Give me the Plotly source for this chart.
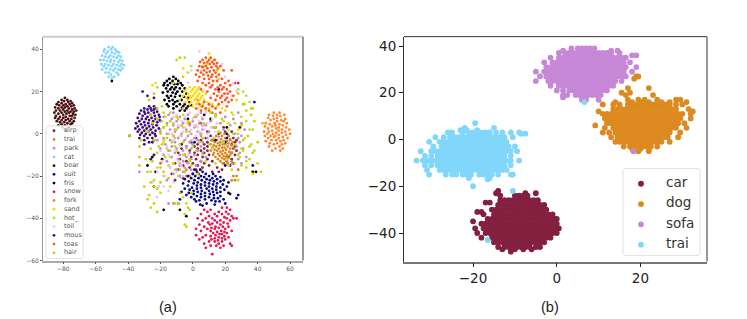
import plotly.graph_objects as go

# panel (a): points, {y: [x, ...]}
airp_rows = {3: [14, 19], 1: [9, 20, 24], 0: [5, 16], -1: [11, 22], -2: [2, 8, 25], -3: [5, 12, 27], -4: [-1, 9, 26],
             -5: [3, 7, 24], -6: [-4, 1, 9, 26], -7: [-7, 3, 7, 25], -8: [-2, 5, 9, 27], -9: [-9, 1, 7, 24],
             -10: [-5, 3, 10, 26], -11: [-1, 6, 22], -12: [-8, 2, 9, 24], -13: [-4, 5, 12, 21],
             -14: [-11, 0, 7, 19, 25], -15: [-6, 3, 10, 23], -16: [-2, 6, 15], -17: [-9, 2, 18], -18: [-5, 12, 16],
             -19: [-13, 0], -20: [-8, -3], -21: [-6], -22: [-11]}
trai_rows = {0.5: [17], 0: [19.5], -1: [14.5, 18, 22], -1.5: [16], -2: [13, 20], -2.5: [17.5, 23], -3: [11.5, 15],
             -3.5: [19, 21], -4: [13.5, 17, 24.5], -4.5: [15.5, 22], -5: [11, 18.5, 20], -5.5: [13, 16.5, 24],
             -6: [14.5, 21.5], -6.5: [12, 18, 19.5], -7: [16, 23, 25.5], -7.5: [13.5, 20.5], -8: [11, 15, 18.5],
             -8.5: [17, 22.5], -9: [13, 20, 24], -9.5: [15.5, 18], -10: [12.5, 21, 23], -10.5: [16.5, 19],
             -11: [14, 20.5], -11.5: [18, 22], -12: [15.5, 19.5], -13: [17, 21, 24], -14: [18.5, 21.5], -15: [2],
             -17: [5, -4], -20: [-4, -2, 25, 27], -22: [24, 26]}
park_rows = {16: [3], 14: [10, -2], 12: [-7, 8], 10: [-12, 5, 28], 9: [-15, -3, 14], 8: [-18, -8, 2, 20],
             7: [-13, -5, 6, 25], 6: [-20, -10, 0, 11], 5: [-16, -6, 4, 17, 30], 4: [-22, -12, -2, 8, 23],
             3: [-18, -9, 1, 13], 2: [-14, -4, 6, 19, 32], 1: [-20, -11, 3, 10], 0: [-16, -7, -1, 26],
             -1: [-12, -3, 5, 30], -2: [-18, -9, 1, 9, 28], -3: [-22, -14, -5, 3], -4: [-11, -2, 6, 29],
             -5: [-17, -8, 0], -6: [-13, -4, 5, 27], -7: [-20, -10, -1, 31], -8: [-15, -6, 3], -9: [-11, -2, 6, 29],
             -10: [-18, -8, 1], -11: [-13, -4, 8, 33], -12: [-9, -1, 28], -13: [-16, -6, 5], -14: [-12, -3, 24, 30],
             -15: [-8, 2], -16: [-14, -5], -17: [-10, -1], -18: [-33, -6], -19: [-12], -20: [-8], -22: [-16],
             -33: [-15, -12]}
cat_rows = {41: [-52, -49.5], 40: [-54.5, -50.5, -48], 39: [-55, -52.5, -47], 38.5: [-50, -45.5], 38: [-53.5, -48],
            37: [-56, -51, -46], 36.5: [-54, -49, -44.5], 36: [-52, -47], 35: [-57, -55, -50.5, -45],
            34.5: [-53, -48.5, -43.5], 34: [-51, -46], 33: [-56.5, -54, -49, -44], 32.5: [-52, -47, -42.5],
            32: [-55, -50, -45], 31: [-53.5, -48, -43.5], 30.5: [-56, -51, -46], 30: [-49, -44.5],
            29: [-54, -52, -47], 28: [-50.5, -46], 27: [-52, -48.5], 26.5: [-50]}
bear_rows = {17: [-79], 16: [-81, -77.5], 15.5: [-79.5, -75.5], 15: [-83, -77], 14.5: [-81, -74.5], 14: [-84, -78.5, -76],
             13.5: [-82.5, -80, -73.5], 13: [-77.5, -75], 12.5: [-85, -81, -79], 12: [-83, -76.5, -73], 11.5: [-80, -74.5],
             11: [-84.5, -82, -77.5, -72], 10.5: [-79, -75.5, -73.5], 10: [-85.5, -81, -76.5], 9.5: [-83, -78, -74],
             9: [-80, -72.5], 8.5: [-84.5, -76, -74.5], 8: [-82, -78.5], 7.5: [-85, -80, -73], 7: [-83, -77, -75],
             6.5: [-81, -78.5], 6: [-84, -76, -73.5], 5.5: [-82, -79.5], 5: [-77.5, -74.5], 4.5: [-81, -75.5],
             4: [-83, -79], 3: [-80.5, -77], 2: [-79]}
suit_rows = {21: [16], 15: [38], 4: [6], 0: [21], -2: [21], -3: [14], -4: [20, 1], -15: [37, 20], -17: [1, 4.5],
             -18: [2.5, 6], -19: [0, 3.5, 8, 12.5], -20: [-3, 1.5, 5, 10, 14], -20.5: [7, 17], -21: [-1, 3.5, 12],
             -21.5: [-5, 8.5, 15], -22: [1, 5.5, 10.5, 19], -22.5: [-2.5, 13, 17], -23: [3, 7.5, 22],
             -23.5: [-6, 0.5, 10, 15], -24: [5, 12.5, 18.5], -24.5: [-3, 2.5, 7.5], -25: [10, 14.5, 21],
             -25.5: [-0.5, 5, 17], -26: [-5, 2.5, 8.5, 12], -26.5: [-2, 14.5, 19.5], -27: [0.5, 5.5, 10],
             -27.5: [-7, 3, 12.5, 17], -28: [-2.5, 7.5, 15], -28.5: [0.5, 5, 10.5, 23], -29: [-4, 13, 28],
             -29.5: [2.5, 7.5, 17], -30: [-1, 5, 10], -30.5: [13, 15.5, 27], -31: [-8, 1, 7.5, 19], -31.5: [4, 11.5],
             -32: [2, 14, 16.5], -33: [-9, 8.5, 20], -33.5: [4.5, 13.5], -34: [6]}
fris_rows = {27: [-12], 26: [-14.5, -10.5], 25: [-50, -16, -12.5, -9], 24: [-17.5, -14, -7.5], 23.5: [-11.5, -9.5],
             23: [-18, -15.5, -6.5], 22: [-13, -10.5], 21.5: [-16.5, -8, -5], 21: [-14, -11.5], 20: [-15.5, -9.5, -6.5],
             19.5: [-18.5, -12.5], 19: [-10.5, -4], 18: [-16, -13.5, -8], 17.5: [-11, -5.5], 17: [-15, -3], 16: [-17.5, -12.5, -7],
             15.5: [-9.5, -14.5], 15: [-11, -2], 14: [-16, -12, -8, -5], 13.5: [-1], 13: [-15, -10, -6, -3], 12: [-12, -7, -4],
             11: [-8, -5], 9: [7, 14], 7: [-3, 11], 3: [21, 29], -1: [-39], -5: [-7], -11: [-25], -12: [-19],
             -15: [-28], -18: [-23, 37, 39], -25: [-24], -28: [22], -36: [-18, -8], -39: [-4]}
snow_rows = {24: [26, 28], -35: [18, 21], -36: [7, 11, 23], -37: [9, 16, 20.5], -38: [5, 13.5, 18, 22],
             -39: [10, 15, 24], -39.5: [19.5], -40: [3, 8, 12, 21, 25, 27], -41: [6, 13.5, 17, 23], -42: [9.5, 15, 19],
             -42.5: [21.5, 12], -43: [4, 10.5, 17], -44: [7, 14, 18.5, 22], -44.5: [11.5, 16], -45: [2, 9, 13.5, 20],
             -46: [5, 11, 17.5, 24], -46.5: [15, 19.5], -47: [12.5, 21], -47.5: [16.5, 18], -48: [2, 8, 14],
             -48.5: [11, 19.5], -49: [6, 16, 22], -49.5: [13.5, 18], -50: [4, 11.5, 20], -50.5: [15.5], -51: [10, 13.5, 18],
             -52: [7, 16, 23], -53: [11, 14.5, 19, 24], -54: [8, 17], -57: [12]}
fork_rows = {10: [50, 53.5], 9: [47, 52, 56.5], 8.5: [49.5, 54], 7.5: [46.5, 52], 7: [50, 57], 6.5: [54.5, 48],
             6: [52, 56], 5: [45, 50.5, 58], 4.5: [47.5, 53.5], 4: [55.5, 51], 3.5: [44.5, 49], 3: [53, 57.5], 2.5: [46.5, 51.5],
             2: [55, 59.5], 1.5: [49, 53], 1: [44, 47, 57], 0.5: [51.5, 55], 0: [46, 49.5, 60], -0.5: [53, 57.5],
             -1: [44.5, 48, 51], -1.5: [55.5, 50], -2: [46.5, 53, 58.5], -3: [48.5, 51.5, 56], -3.5: [45, 54],
             -4.5: [47.5, 52, 57], -5: [50, 55], -6: [47, 53.5], -7: [51, 55.5], -8: [49, 54]}
sand_rows = {38: [10], 35: [13], 33: [9], 31: [-6], 24: [-23], 23: [-25], 22: [-2, 1, 4], 21: [-4, 0, 3],
             20: [-5, -1, 2, 6], 19: [-3, 1, 4, 8], 18: [-6, -2, 0, 3, 6], 17: [-4, -1, 2, 5], 16: [-3, 1, 4, 7],
             15: [-5, -1, 3, 9], 14: [-2, 2, 6, 12], 13: [0, 5, 15], 12: [3, 10, 18], 11: [8, 20], 9: [14, 25],
             5: [22], 2: [28], -4: [-18], -19: [37]}
hot_rows = {36: [-5], 32: [6, -1], 29: [-3], 26: [16], 22: [-22], 21: [28], 20: [31], 18: [33], 16: [-8, 27], 15: [35],
            14: [32], 12: [36, -6], 10: [-14, 24], 9: [-6, 3], 8: [-17, 14, 30], 7: [-9], 6: [-19, -3, 19, 33],
            5: [-12, 7, 26], 4: [-16, 2, 30], 3: [-6, 12], 2: [-20, -10, 22, 35], 1: [-2, 16], 0: [-15, 5, 28],
            -1: [-23, -7], -2: [-11, 13, 32], -3: [-18, -1], -4: [-13, 4, 19], -5: [-8, 26, 36], -6: [-21, 0],
            -7: [-16, -4, 12, 30], -8: [-10, 38], -10: [-24, -6, 6], -11: [-14, 29], -12: [-29, -2, 21, 35],
            -13: [-19, 8, 33], -14: [-8, 14, 26], -15: [-15, -1, 22], -16: [-22], -17: [-11, 24], -18: [-26, -5],
            -20: [-18, -9], -22: [-24, 28], -25: [-21, -14], -28: [-20], -30: [-6], -33: [-4, -9], -36: [-2]}
toil_rows = {39: [4], 33: [18], 30: [5, -1], 27: [20], 24: [-3, 25], 22: [10], 20: [27], 18: [24], 15: [-4, 22],
             12: [-8, 3], 10: [-2, 8], 9: [-10, 2], 8: [-12, -5, 6], 7: [0, 12], 6: [-14, -7, 4], 5: [-3, 9, 15],
             4: [-9, 1, 6], 3: [-5, 3, 11], 2: [-11, -1, 7], 1: [-6, 4, 14], 0: [-13, -2, 9], -1: [-8, 2],
             -2: [-4, 6, 16], -3: [-12, 0], -6: [-16, -8], -8: [-20, -11], -10: [-15, -3], -13: [-19, -9], -15: [-7],
             -16: [-14], -18: [-22, -10], -20: [-17, -6], -23: [-25, -12], -25: [-21, -18], -27: [-15], -30: [-22]}
mous_rows = {20: [-31], 18: [-28], 17: [-24], 13: [-27, -24], 12: [-30, -26, -22.5], 11.5: [-28, -24], 11: [-32, -25.5],
             10.5: [-30, -22], 10: [-27.5, -24], 9.5: [-33, -29.5], 9: [-26, -21], 8.5: [-31, -23.5], 8: [-28, -20.5],
             7.5: [-34, -25.5], 7: [-31.5, -29, -23], 6.5: [-27, -20.5], 6: [-33, -24.5], 5.5: [-30, -22], 5: [-35, -27.5],
             4.5: [-32, -25], 4: [-29.5, -22.5], 3.5: [-34, -27], 3: [-31, -24.5], 2.5: [-35.5, -28.5, -21], 2: [-33, -26],
             1.5: [-30, -23], 1: [-34, -27.5], 0.5: [-31.5, -25], 0: [-29, -23.5], -0.5: [-32.5, -26.5], -1: [-30, -23],
             -2: [-33, -28, -25], -3: [-30, -24], -4: [-27, -25], -5: [-30], -10: [-24], -12: [-26]}
toas_rows = {36: [8, 11], 35: [6, 10, 13.5], 34: [4.5, 9, 12], 33.5: [7, 15], 33: [10.5, 13], 32: [4, 8, 14.5, 17],
             31.5: [6, 11.5], 31: [9, 15.5], 30: [3, 7, 13, 19, 24], 29.5: [10.5], 29: [5, 8.5, 14], 28: [2, 6.5, 12, 16],
             27.5: [9.5], 27: [4, 11.5, 14.5], 26: [7, 10, 18], 25: [3, 12.5, 15, 22], 24: [6, 10, 20], 23: [8, 12, 17, 23],
             22: [11, 15.5, 19], 21: [5, 14, 18, 21], 20: [9, 16, 23], 19: [13, 19.5, 21.5], 18: [15, 18, 25],
             17: [11, 17, 21], 16: [14, 20, 24], 15: [7, 18, 22], 14: [4, 10, 16], 13: [6, 12, 21], 12: [2, 8, 14],
             11: [5, 10], 10: [12, 17], 5: [-2, 5], -3: [23], -14: [-20], -17: [28]}
hair_rows = {36: [-8], 35: [-10], 30: [15], 27: [-6], 24: [-12], 19: [-24, 28], 16: [-27], 14: [31], 13: [-19],
             12: [-22, 37], 11: [33], 10: [-18, 11], 9: [-26, 36], 8: [-10, 1], 7: [-22, 18], 6: [-14, 38],
             5: [-25, -3, 43], 4: [-7, 30], 3: [-18, 14], 2: [-11, 37], 1: [-28, -4], 0: [-20, 25],
             -1: [-39, -12, 34], -2: [-16, 6], -3: [-32, -24, 31], -4: [-6, 40], -5: [-19, 10],
             -6: [-33, -11, 35], -7: [-26], -8: [-14, 2, 31], -9: [-22, 37], -10: [-5, 28], -11: [-33, -17],
             -13: [-25, -2], -14: [-12, 40], -15: [-33, 30], -16: [-20, 33], -17: [-8], -18: [-28, -18, 42],
             -19: [3], -21: [-15], -23: [-26, -20], -25: [-30, -24], -26: [-22], -28: [-8, -1], -29: [-27],
             -31: [-28], -33: [-24, -11], -35: [-26, -3], -37: [-22], -38: [-5], -43: [-5], -44: [-4]}

labels_a = ["airp", "trai", "park", "cat", "bear", "suit", "fris", "snow", "fork", "sand", "hot_", "toil", "mous",
            "toas", "hair"]
colors_a = ["#8a1f44", "#dc8a20", "#c688d6", "#80d6fb", "#4a1010", "#0a0a80", "#000000", "#e8174f", "#ff8a30",
            "#ffd800", "#b8e030", "#f0c8f5", "#3d0f7a", "#ff5a1f", "#d4d000"]
rows_a = [airp_rows, trai_rows, park_rows, cat_rows, bear_rows, suit_rows, fris_rows, snow_rows, fork_rows, sand_rows,
          hot_rows, toil_rows, mous_rows, toas_rows, hair_rows]

# panel (b)
car_rows = {-22: [-14], -23: [-14.5, -7.5, -5], -24: [-13.5, -10, -9, -8, -7],
            -26: [-13.5, -12.5, -11.5, -10.5, -9.5, -8.5, -7.5, -6.5, -5.5, -4.5],
            -27: [-17, -16],
            -28: [-14, -13, -12, -11, -10, -9, -8, -7, -6, -5, -4, -3],
            -30: [-15.5, -14.5, -13.5, -12.5, -11.5, -10.5, -9.5, -8.5, -7.5, -6.5, -5.5, -4.5, -3.5, -2.5],
            -31: [-19, -18],
            -32: [-17.5, -15, -14, -13, -12, -11, -10, -9, -8, -7, -6, -5, -4, -3, -2, -1],
            -34: [-16.5, -15.5, -14.5, -13.5, -12.5, -11.5, -10.5, -9.5, -8.5, -7.5, -6.5, -5.5, -4.5, -3.5, -2.5,
                  -1.5, -0.5, 0],
            -35: [-20],
            -36: [-18, -17, -16, -15, -14, -13, -12, -11, -10, -9, -8, -7, -6, -5, -4, -3, -2, -1, 0],
            -38: [-19.5, -17.5, -16.5, -15.5, -14.5, -13.5, -12.5, -11.5, -10.5, -9.5, -8.5, -7.5, -6.5, -5.5,
                  -4.5, -3.5, -2.5, -1.5, -0.5, 0.5],
            -40: [-19, -17, -16, -15, -14, -13, -12, -11, -10, -9, -8, -7, -6, -5, -4, -3, -2, -1, 0],
            -42: [-18, -15.5, -14.5, -13.5, -12.5, -11.5, -10.5, -9.5, -8.5, -7.5, -6.5, -5.5, -4.5, -3.5, -2.5, -1.5],
            -44: [-15, -14, -13, -12, -11, -10, -9, -8, -7, -6, -5, -4, -3],
            -46: [-14, -12.5, -11.5, -10.5, -9.5, -8.5, -7.5, -6.5, -5, -4],
            -47: [-13, -10, -8, -6], -48: [-11]}
dog_rows = {27: [19, 19.5], 26: [18.5], 22: [17, 22], 20: [15.5, 17.5], 19: [16.5, 23],
            17: [17, 19.5, 21, 24, 28.5, 29.5], 16: [14, 18, 20, 22, 25, 27, 31],
            15: [11, 13.5, 15, 17, 18, 19, 20, 21, 22, 23, 24, 25, 26, 27, 28.5, 30],
            13: [13.5, 14.5, 15.5, 16.5, 17.5, 18.5, 19.5, 20.5, 21.5, 22.5, 23.5, 24.5, 25.5, 26.5, 27.5, 28.5, 31.5],
            12: [10, 32.5],
            11: [11, 12, 13, 14, 15, 16, 17, 18, 19, 20, 21, 22, 23, 24, 25, 26, 27, 28, 29, 30, 32],
            9: [11.5, 12.5, 13.5, 14.5, 15.5, 16.5, 17.5, 18.5, 19.5, 20.5, 21.5, 22.5, 23.5, 24.5, 25.5, 26.5, 27.5,
                28.5, 29.5, 32],
            7: [12, 13, 14, 15, 16, 17, 18, 19, 20, 21, 22, 23, 24, 25, 26, 27, 28, 29, 30.5],
            6: [9.2],
            5: [11.5, 13.5, 14.5, 15.5, 16.5, 17.5, 18.5, 19.5, 20.5, 21.5, 22.5, 23.5, 24.5, 25.5, 26.5, 27.5, 28.5, 31],
            3: [11, 12.5, 14, 15, 16, 17, 18, 19, 20, 21, 22, 23, 24, 25, 26, 27, 29.5],
            1: [13, 14.5, 15.5, 16.5, 17.5, 18.5, 19.5, 20.5, 21.5, 22.5, 23.5, 24.5, 25.5, 26.5, 29],
            -1: [14, 15, 16, 17, 18, 19, 20, 21, 22, 23, 24, 25, 27],
            -3: [16, 17.5, 18.5, 19.5, 20.5, 21.5, 22.5, 24],
            -4: [18, 20, 22], -5: [19.5, 22]}
sofa_rows = {39: [3.5, 5, 6, 7, 8, 9], 38: [1.5, 13, 14.5],
             37: [0.5, 2, 3, 4, 5, 6, 7, 8, 9, 10, 11, 12, 13, 15],
             36: [18, 19],
             35: [-1.5, 0.5, 1.5, 2.5, 3.5, 4.5, 5.5, 6.5, 7.5, 8.5, 9.5, 10.5, 11.5, 12.5, 13.5, 14.5, 15.5, 16.5],
             33: [-3, -1, 0, 1, 2, 3, 4, 5, 6, 7, 8, 9, 10, 11, 12, 13, 14, 15, 16, 17.5],
             31: [-2.5, -1.5, -0.5, 0.5, 1.5, 2.5, 3.5, 4.5, 5.5, 6.5, 7.5, 8.5, 9.5, 10.5, 11.5, 12.5, 13.5, 14.5,
                  15.5, 16.5, 19],
             29: [-5, -3, -2, -1, 0, 1, 2, 3, 4, 5, 6, 7, 8, 9, 10, 11, 12, 13, 14, 15, 16, 18],
             27: [-4, -2.5, -1.5, -0.5, 0.5, 1.5, 2.5, 3.5, 4.5, 5.5, 6.5, 7.5, 8.5, 9.5, 10.5, 11.5, 12.5, 13.5,
                  14.5, 15.5, 16.5],
             25: [-5, -2, -1, 0, 1, 2, 3, 4, 5, 6, 7, 8, 9, 10, 11, 12, 13, 14, 15.5],
             23: [-1.5, 0.5, 1.5, 2.5, 3.5, 4.5, 5.5, 6.5, 7.5, 8.5, 9.5, 10.5, 11.5, 12.5, 13.5],
             21: [0, 1.5, 3, 4, 5, 6, 7, 8, 9, 10, 11, 12],
             19: [1.5, 2.5, 4.5, 5.5, 6.5, 7.5, 8.5, 9.5, 10.5],
             18: [1.5], 17: [6, 7, 10], -5: [18.3]}
train_rows = {16: [6.6], 7: [-19.5], 5: [-22, -15], 4: [-23, -21.5, -19], 2.5: [-8.5, -7.5],
              3: [-26, -25, -22.5, -21, -20, -19, -18, -17, -16, -14.5, -13, -11, -9],
              1: [-29, -27, -25.5, -24.5, -23.5, -22.5, -21.5, -20.5, -19.5, -18.5, -17.5, -16.5, -15.5, -14.5,
                  -13.5, -12.5, -10.5],
              -1: [-30.5, -28, -27, -26, -25, -24, -23, -22, -21, -20, -19, -18, -17, -16, -15, -14, -13, -12],
              -3: [-29.5, -27.5, -26.5, -25.5, -24.5, -23.5, -22.5, -21.5, -20.5, -19.5, -18.5, -17.5, -16.5,
                   -15.5, -14.5, -13.5, -12.5, -11.5, -10],
              -5: [-32.5, -30, -29, -28, -27, -26, -25, -24, -23, -22, -21, -20, -19, -18, -17, -16, -15, -14, -13,
                   -12, -11, -9.5],
              -7: [-31.5, -30, -28.5, -27.5, -26.5, -25.5, -24.5, -23.5, -22.5, -21.5, -20.5, -19.5, -18.5,
                   -17.5, -16.5, -15.5, -14.5, -13.5, -12.5, -11],
              -9: [-33.5, -32, -31, -30, -29, -28, -27, -26, -25, -24, -23, -22, -21, -20, -19, -18, -17, -16, -15,
                   -14, -13, -12, -11, -9],
              -11: [-31.5, -30, -28.5, -27.5, -26.5, -25.5, -24.5, -23.5, -22.5, -21.5, -20.5, -19.5,
                    -18.5, -17.5, -16.5, -15.5, -14.5, -13.5, -12.5, -11],
              -13: [-31, -28, -27, -26, -25, -24, -23, -22, -21, -20, -19, -18, -17, -16, -15, -14, -13, -12],
              -15: [-30.5, -26.5, -25, -24, -22.5, -21.5, -20.5, -18.5, -17.5, -16.5, -15.5, -14, -11, -10.5],
              -16.5: [-21, -16], -17: [-16.5], -20: [-20], -22: [-10.5], -43: [-16.5]}

labels_b = ["car", "dog", "sofa", "trai"]
colors_b = ["#84203f", "#dc8a20", "#c688d6", "#80d6fb"]
rows_b = [car_rows, dog_rows, sofa_rows, train_rows]

xticks_a = [-80, -60, -40, -20, 0, 20, 40, 60]
yticks_a = [-60, -40, -20, 0, 20, 40]
xticks_b = [-20, 0, 20]
yticks_b = [-40, -20, 0, 20, 40]

W, H = 747, 319
AXIS_SHIFT = 1  # px, nudges from comparing with the reference
TEXT_SHIFT = 2
BOX_A = (43, 303, 36 + AXIS_SHIFT, 262 + AXIS_SHIFT)  # left, right, top, bottom in px
BOX_B = (404, 707, 36 + AXIS_SHIFT, 263 + AXIS_SHIFT)


def flatten(rows):
    xs, ys = [], []
    for y, row in rows.items():
        for x in row:
            xs.append(x)
            ys.append(y)
    return xs, ys


def legend_box(left, right, top, bottom, cut=2):
    xs = [left + cut, right - cut, right, right, right - cut, left + cut, left, left, left + cut]
    ys = [top, top, top + cut, bottom - cut, bottom, bottom, bottom - cut, top + cut, top]
    return go.Scatter(x=xs, y=ys, xaxis="x3", yaxis="y3", mode="lines", fill="toself",
                      fillcolor="rgba(255,255,255,0.8)", line=dict(color="#e0e0e0", width=1),
                      hoverinfo="skip", showlegend=False)


fig = go.Figure()

for name, color, rows in zip(labels_a, colors_a, rows_a):
    xs, ys = flatten(rows)
    fig.add_trace(go.Scatter(x=xs, y=ys, name=name, mode="markers", xaxis="x", yaxis="y",
                             marker=dict(color=color, size=2.8), showlegend=False))

for name, color, rows in zip(labels_b, colors_b, rows_b):
    xs, ys = flatten(rows)
    fig.add_trace(go.Scatter(x=xs, y=ys, name=name, mode="markers", xaxis="x2", yaxis="y2",
                             marker=dict(color=color, size=5.8), showlegend=False))

# the legends need tighter rows than plotly's own legend allows, so they sit on a px overlay axis
fig.add_trace(legend_box(46, 83, 127, 261))
ys_a = [130 + TEXT_SHIFT + i * 8.8 for i in range(len(labels_a))]
fig.add_trace(go.Scatter(x=[54] * len(labels_a), y=ys_a, xaxis="x3", yaxis="y3", mode="markers",
                         marker=dict(color=colors_a, size=2.8), showlegend=False))
fig.add_trace(go.Scatter(x=[64] * len(labels_a), y=ys_a, text=labels_a, xaxis="x3", yaxis="y3", mode="text",
                         textposition="middle right", textfont=dict(family="DejaVu Sans", size=6.5, color="#555555"),
                         showlegend=False))

fig.add_trace(legend_box(623, 700, 170, 258))
ys_b = [183.5 + TEXT_SHIFT + i * 20.5 for i in range(len(labels_b))]
fig.add_trace(go.Scatter(x=[641] * len(labels_b), y=ys_b, xaxis="x3", yaxis="y3", mode="markers",
                         marker=dict(color=colors_b, size=5.8), showlegend=False))
fig.add_trace(go.Scatter(x=[666] * len(labels_b), y=ys_b, text=labels_b, xaxis="x3", yaxis="y3", mode="text",
                         textposition="middle right", textfont=dict(family="DejaVu Sans", size=13.5, color="#333333"),
                         showlegend=False))


def x_axis(box, rng, ticks, size, color, length, line):
    return dict(domain=[box[0] / W, box[1] / W], range=rng, tickvals=ticks, ticks="outside", ticklen=length,
                tickcolor=color, tickwidth=1, showgrid=False, zeroline=False, showline=True, linecolor=line,
                linewidth=1.5, tickfont=dict(family="DejaVu Sans", size=size, color=color))


def y_axis(box, rng, ticks, size, color, length, line):
    return dict(domain=[1 - box[3] / H, 1 - box[2] / H], range=rng, tickvals=ticks, ticks="outside", ticklen=length,
                tickcolor=color, tickwidth=1, showgrid=False, zeroline=False, showline=True, linecolor=line,
                linewidth=1, tickfont=dict(family="DejaVu Sans", size=size, color=color))


fig.update_layout(
    width=W, height=H, autosize=False, margin=dict(l=0, r=0, t=0, b=0),
    paper_bgcolor="white", plot_bgcolor="rgba(0,0,0,0)", showlegend=False,
    xaxis=dict(x_axis(BOX_A, [-92.5, 68], xticks_a, 6, "#555555", 2, "#aaaaaa"), anchor="y"),
    yaxis=dict(y_axis(BOX_A, [-60, 46], yticks_a, 6, "#555555", 2, "#999999"), anchor="x"),
    xaxis2=dict(x_axis(BOX_B, [-36.5, 35.9], xticks_b, 13.5, "#222222", 4, "#777777"), anchor="y2"),
    yaxis2=dict(y_axis(BOX_B, [-52.2, 44], yticks_b, 13.5, "#222222", 4, "#333333"), anchor="x2"),
    xaxis3=dict(domain=[0, 1], range=[0, W], visible=False, anchor="y3"),
    yaxis3=dict(domain=[0, 1], range=[H, 0], visible=False, anchor="x3"),
    shapes=[
        dict(type="line", xref="x3", yref="y3", x0=BOX_A[0], x1=BOX_A[1], y0=BOX_A[2], y1=BOX_A[2],
             line=dict(color="#cccccc", width=2)),
        dict(type="line", xref="x3", yref="y3", x0=BOX_A[1], x1=BOX_A[1], y0=BOX_A[2], y1=BOX_A[3],
             line=dict(color="#999999", width=2)),
        dict(type="line", xref="x3", yref="y3", x0=BOX_B[0], x1=BOX_B[1], y0=BOX_B[2], y1=BOX_B[2],
             line=dict(color="#333333", width=1)),
        dict(type="line", xref="x3", yref="y3", x0=BOX_B[1], x1=BOX_B[1], y0=BOX_B[2], y1=BOX_B[3],
             line=dict(color="#777777", width=1.5)),
    ],
    annotations=[
        dict(text="(a)", xref="x3", yref="y3", x=168, y=308 + TEXT_SHIFT, showarrow=False,
             font=dict(family="Liberation Sans", size=14.5, color="#222222")),
        dict(text="(b)", xref="x3", yref="y3", x=550, y=308 + TEXT_SHIFT, showarrow=False,
             font=dict(family="Liberation Sans", size=14.5, color="#222222")),
    ],
)

# the page's default 8px body margin would push the figure off its pixel positions
fig.write_html("out.html", config={"displayModeBar": False},
               post_script="document.body.style.margin='0';")
